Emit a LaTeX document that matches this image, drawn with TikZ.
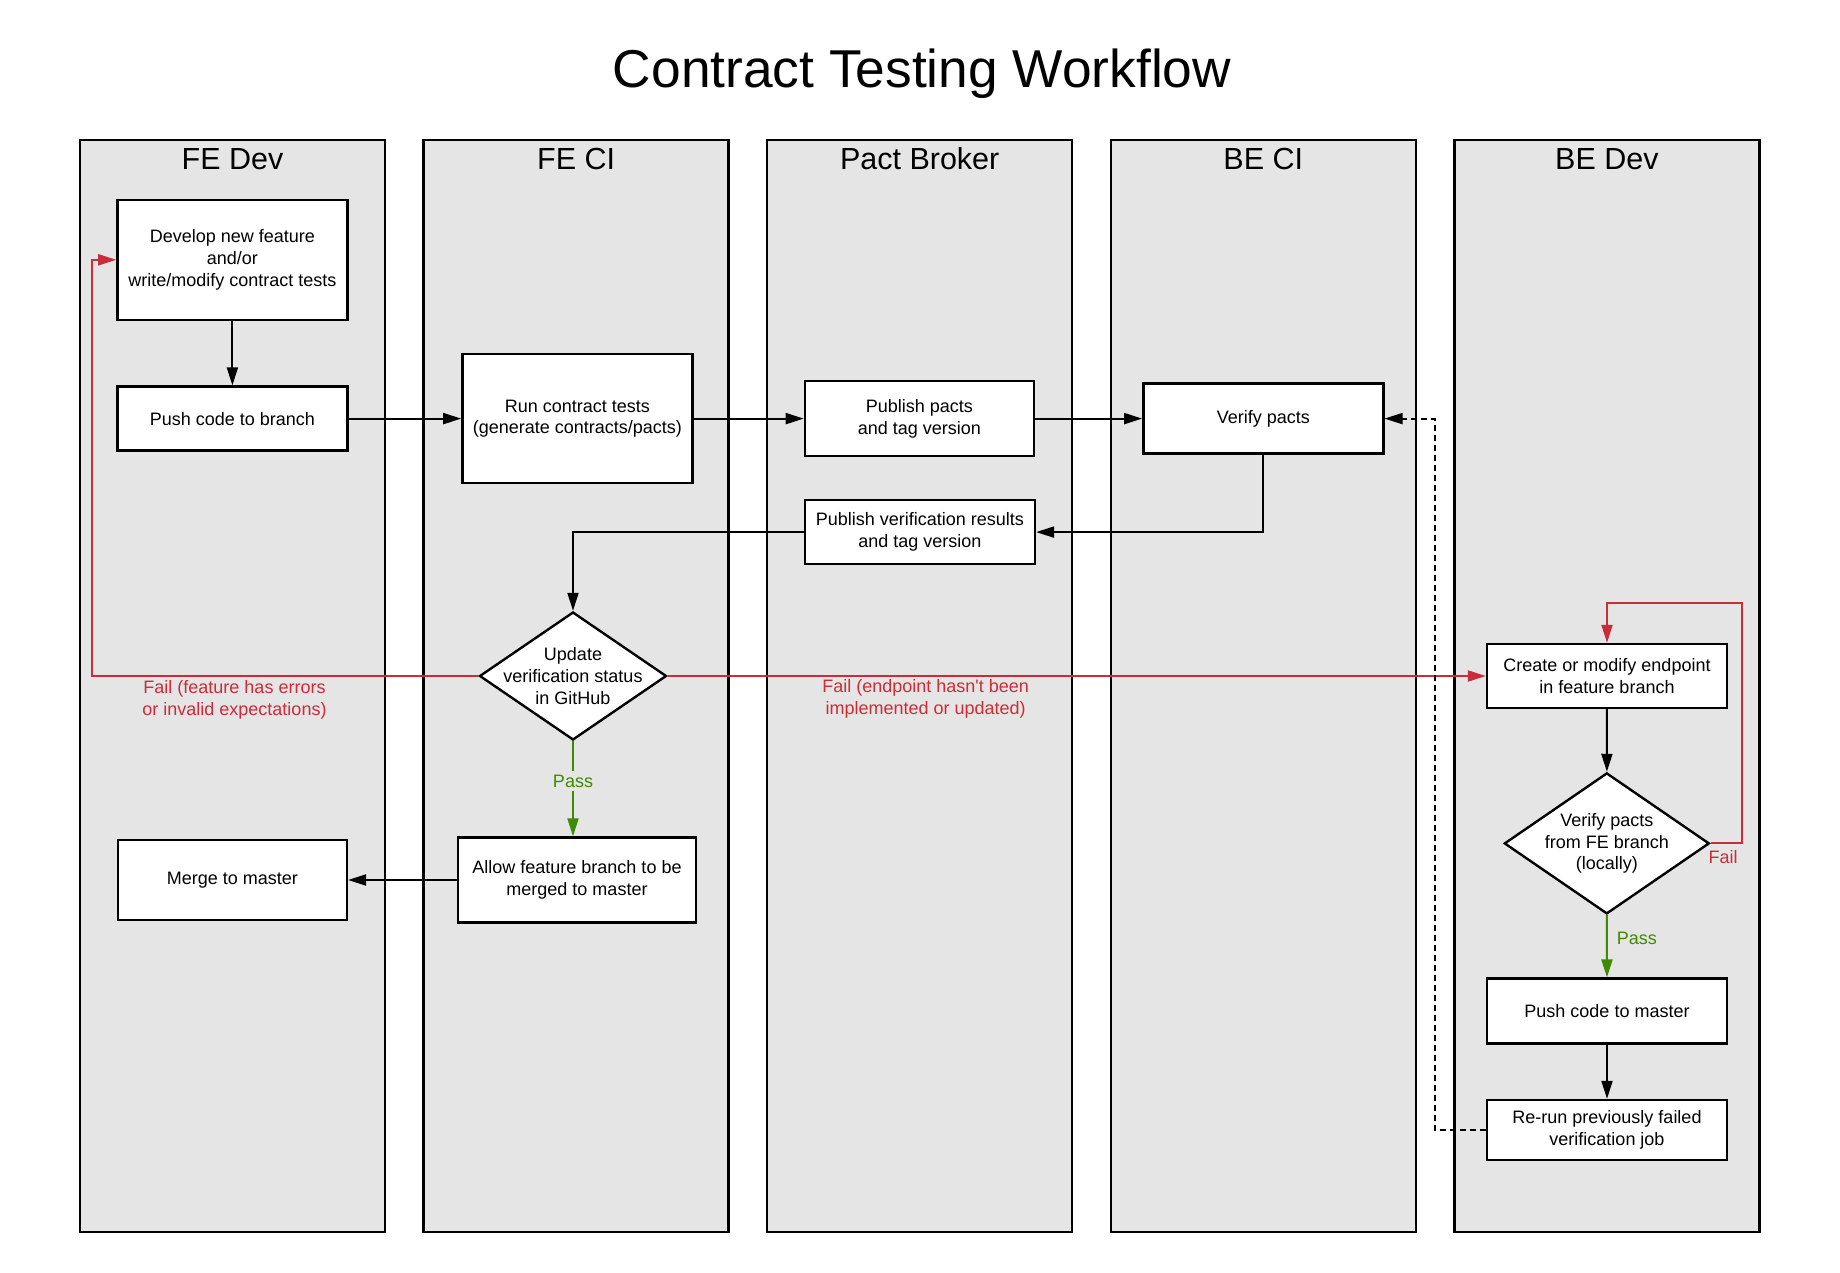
\documentclass[tikz,border=0pt]{standalone}
\usepackage{fontspec}
\setmainfont{Liberation Sans}
\usetikzlibrary{shapes.geometric,arrows.meta}
\definecolor{lanegray}{HTML}{E5E5E5}
\definecolor{failred}{HTML}{C92D39}
\definecolor{passgreen}{HTML}{3E8A00}

\begin{document}
\begin{tikzpicture}[x=1pt, y=-1pt,
	lane/.style={draw, line width=2.5pt, fill=lanegray, minimum width=305pt, minimum height=1092pt, inner sep=0pt},
	lanetitle/.style={anchor=base, inner sep=0pt, font=\fontsize{30.5}{36}\selectfont},
	box/.style={draw, line width=2.4pt, fill=white, align=center, inner sep=0pt, font=\fontsize{18}{21.6}\selectfont},
	choice/.style={diamond, draw, line width=2.4pt, fill=white, inner sep=0pt},
	flow/.style={line width=2pt, -{Triangle[length=18pt, width=11pt]}},
	failline/.style={flow, failred},
	passline/.style={flow, passgreen},
	flowtext/.style={align=center, inner sep=0pt, font=\fontsize{18}{21.6}\selectfont}]
	\useasboundingbox (0,0) rectangle (1840,1273);
	
	%title
	\node[anchor=base, inner sep=0pt, font=\fontsize{53.3}{64}\selectfont] (title) at (922, 87.8) {Contract Testing Workflow};
	
	%lanes
	\foreach \i/\name in {0/FE Dev, 1/FE CI, 2/Pact Broker, 3/BE CI, 4/BE Dev}{
		\node[lane] (lane\i) at ({232.5+343.6*\i}, 685.8) {};
		\node[lanetitle] (head\i) at ({232.5+343.6*\i}, 169.8) {\name};
	}
	
	%front end
	\node[box, minimum width=230pt, minimum height=120pt] (dev) at (232.4, 259.8) {Develop new feature\\and/or\\write/modify contract tests};
	\node[box, minimum width=230pt, minimum height=64pt] (push) at (232.4, 418.6) {Push code to branch};
	\node[box, minimum width=230pt, minimum height=129pt] (run) at (577.4, 418.6) {Run contract tests\\(generate contracts/pacts)};
	\node[box, minimum width=229pt, minimum height=75pt] (pub) at (919.4, 418.6) {Publish pacts\\and tag version};
	\node[box, minimum width=240pt, minimum height=70pt] (verify) at (1263.3, 418.6) {Verify pacts};
	\node[box, minimum width=230pt, minimum height=64pt] (pubres) at (919.9, 532.1) {Publish verification results\\and tag version};
	\node[choice, minimum width=187pt, minimum height=128pt, label={[flowtext]center:Update\\verification status\\in GitHub}] (status) at (573, 676) {};
	\node[box, minimum width=238pt, minimum height=85pt] (allow) at (577, 880) {Allow feature branch to be\\merged to master};
	\node[box, minimum width=229pt, minimum height=80pt] (merge) at (232.4, 880) {Merge to master};
	
	%back end
	\node[box, minimum width=240pt, minimum height=64pt] (endpoint) at (1607, 676) {Create or modify endpoint\\in feature branch};
	\node[choice, minimum width=205pt, minimum height=141pt, label={[flowtext]center:Verify pacts\\from FE branch\\(locally)}] (local) at (1606.8, 843.4) {};
	\node[box, minimum width=240pt, minimum height=65pt] (pushmaster) at (1607, 1011.1) {Push code to master};
	\node[box, minimum width=240pt, minimum height=60pt] (rerun) at (1607, 1130) {Re-run previously failed\\verification job};
	
	\coordinate (feloop) at (92, 0);
	\coordinate (beloop) at (1742, 603);
	\coordinate (recheck) at (1435, 0);
	
	\draw[flow] (dev) -- (push);
	\draw[flow] (push) -- (run);
	\draw[flow] (run) -- (pub);
	\draw[flow] (pub) -- (verify);
	\draw[flow] (verify.south) |- (pubres.east);
	\draw[flow] (pubres.west) -| (status.north);
	\draw[failline] (status.west) -- (status.west -| feloop) |- (dev.west);
	\draw[failline] (status.east) -- (endpoint.west);
	\draw[passline] (status.south) -- node[flowtext, pos=0.42, fill=lanegray, inner sep=4pt, text=passgreen] (passfe) {Pass} (status.south |- allow.north);
	\draw[flow] (allow) -- (merge);
	\draw[flow] (endpoint) -- (local);
	\draw[failline] (local.east) -| (beloop) -| (endpoint.north);
	\draw[passline] (local.south) -- node[flowtext, pos=0.37, anchor=west, xshift=9pt, text=passgreen] (passbe) {Pass} (pushmaster.north);
	\draw[flow] (pushmaster) -- (rerun);
	\draw[flow, dash pattern=on 6pt off 4pt] (rerun.west) -- (rerun.west -| recheck) |- (verify.east);
	
	\node[flowtext, text=failred] (failfe) at (234.5, 699.6) {Fail (feature has errors\\or invalid expectations)};
	\node[flowtext, text=failred] (failbe) at (925.7, 699.1) {Fail (endpoint hasn\textquotesingle t been\\implemented or updated)};
	\node[flowtext, anchor=west, text=failred] (faillocal) at (1708.5, 856.7) {Fail};
\end{tikzpicture}
\end{document}
